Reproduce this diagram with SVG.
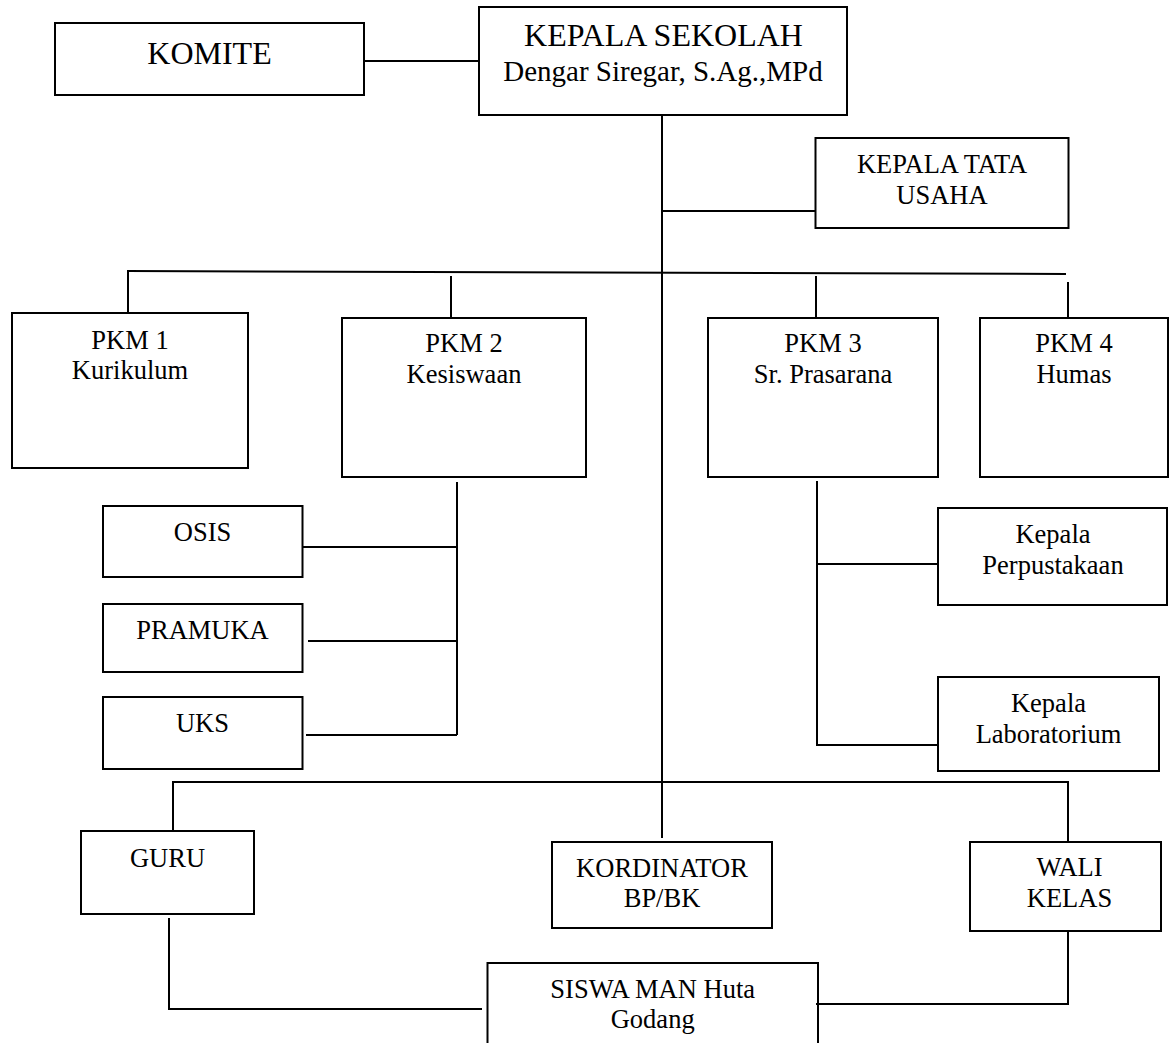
<svg xmlns="http://www.w3.org/2000/svg" width="1170" height="1043" viewBox="0 0 1170 1043">
<style>
  .box { fill: #ffffff; stroke: #000000; stroke-width: 2; }
  .ln { fill: none; stroke: #000000; stroke-width: 2; }
  text { font-family: "Liberation Serif", "Times New Roman", serif; fill: #000000; text-anchor: middle; font-size: 26.5px; }
  .big { font-size: 32px; }
  .mid { font-size: 29px; }
</style>
<rect width="1170" height="1043" fill="#ffffff"/>
<g id="connectors">
  <line class="ln" x1="363" y1="61" x2="479" y2="61"/>
  <line class="ln" x1="662" y1="115" x2="662" y2="838"/>
  <line class="ln" x1="662" y1="211" x2="815" y2="211"/>
  <line class="ln" x1="127" y1="271" x2="1066" y2="274"/>
  <line class="ln" x1="128" y1="271" x2="128" y2="313"/>
  <line class="ln" x1="451" y1="276" x2="451" y2="318"/>
  <line class="ln" x1="816" y1="276" x2="816" y2="318"/>
  <line class="ln" x1="1068" y1="282" x2="1068" y2="318"/>
  <line class="ln" x1="457" y1="482" x2="457" y2="735"/>
  <line class="ln" x1="302" y1="547" x2="457" y2="547"/>
  <line class="ln" x1="308" y1="641" x2="457" y2="641"/>
  <line class="ln" x1="306" y1="735" x2="457" y2="735"/>
  <line class="ln" x1="817" y1="481" x2="817" y2="746"/>
  <line class="ln" x1="817" y1="564" x2="938" y2="564"/>
  <line class="ln" x1="817" y1="745" x2="938" y2="745"/>
  <polyline class="ln" points="173,831 173,782 1068,782 1068,842"/>
  <polyline class="ln" points="169,918 169,1009 482,1009"/>
  <polyline class="ln" points="1068,931 1068,1004 816,1004"/>
</g>
<g id="komite">
  <rect class="box" x="55" y="23" width="309" height="72"/>
  <text class="big" x="209.5" y="64">KOMITE</text>
</g>
<g id="kepala-sekolah">
  <rect class="box" x="479" y="7" width="368" height="108"/>
  <text class="big" x="663.5" y="46">KEPALA SEKOLAH</text>
  <text class="mid" x="663" y="81">Dengar Siregar, S.Ag.,MPd</text>
</g>
<g id="tata-usaha">
  <rect class="box" x="815.5" y="138" width="253" height="90"/>
  <text x="942" y="173">KEPALA TATA</text>
  <text x="942" y="204">USAHA</text>
</g>
<g id="pkm1">
  <rect class="box" x="12" y="313" width="236" height="155"/>
  <text x="130" y="349">PKM 1</text>
  <text x="130" y="379">Kurikulum</text>
</g>
<g id="pkm2">
  <rect class="box" x="342" y="318" width="244" height="159"/>
  <text x="464" y="352">PKM 2</text>
  <text x="464" y="383">Kesiswaan</text>
</g>
<g id="pkm3">
  <rect class="box" x="708" y="318" width="230" height="159"/>
  <text x="823" y="352">PKM 3</text>
  <text x="823" y="383">Sr. Prasarana</text>
</g>
<g id="pkm4">
  <rect class="box" x="980" y="318" width="188" height="159"/>
  <text x="1074" y="352">PKM 4</text>
  <text x="1074" y="383">Humas</text>
</g>
<g id="osis">
  <rect class="box" x="103" y="506" width="199.5" height="71"/>
  <text x="202.5" y="541">OSIS</text>
</g>
<g id="pramuka">
  <rect class="box" x="103" y="604" width="199.5" height="68"/>
  <text x="202.5" y="639">PRAMUKA</text>
</g>
<g id="uks">
  <rect class="box" x="103" y="697" width="199.5" height="72"/>
  <text x="202.5" y="732">UKS</text>
</g>
<g id="perpustakaan">
  <rect class="box" x="938" y="508" width="229" height="97"/>
  <text x="1053" y="543">Kepala</text>
  <text x="1053" y="574">Perpustakaan</text>
</g>
<g id="laboratorium">
  <rect class="box" x="938" y="677" width="221" height="94"/>
  <text x="1048.5" y="712">Kepala</text>
  <text x="1048.5" y="743">Laboratorium</text>
</g>
<g id="guru">
  <rect class="box" x="81" y="831" width="173" height="83"/>
  <text x="167.5" y="867">GURU</text>
</g>
<g id="kordinator">
  <rect class="box" x="552" y="842" width="220" height="86"/>
  <text x="662" y="877">KORDINATOR</text>
  <text x="662" y="907">BP/BK</text>
</g>
<g id="wali-kelas">
  <rect class="box" x="970" y="842" width="191" height="89"/>
  <text x="1069.5" y="876">WALI</text>
  <text x="1069.5" y="907">KELAS</text>
</g>
<g id="siswa">
  <polyline class="ln" points="487.5,1043 487.5,963 818,963 818,1043"/>
  <text x="652.7" y="998">SISWA MAN Huta</text>
  <text x="652.7" y="1028">Godang</text>
</g>
</svg>
